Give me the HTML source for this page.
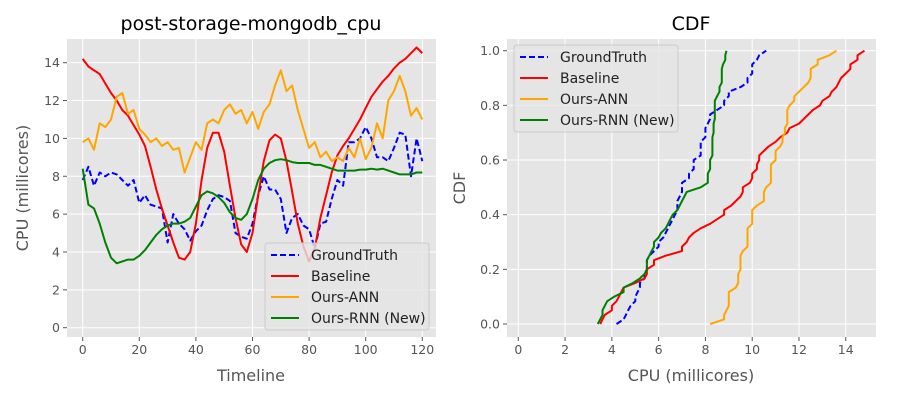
<!DOCTYPE html>
<html><head><meta charset="utf-8"><style>
body{margin:0;background:#fff;}
svg{display:block;font-family:"DejaVu Sans","Liberation Sans",sans-serif;}
</style></head><body>
<svg id="chart" width="900" height="400"></svg>
<script>
const timeStep = 2;
const groundTruth = [7.8,8.5,7.5,8.2,8.0,8.2,8.1,7.8,7.5,7.8,6.6,7.0,6.5,6.4,6.3,4.5,6.0,5.5,5.2,4.6,5.1,5.4,6.2,6.8,7.0,6.9,6.7,5.0,4.8,4.7,5.5,7.0,8.0,7.3,7.3,6.8,5.0,5.8,6.0,5.4,5.2,4.2,5.5,5.6,6.8,7.8,7.5,9.8,9.8,10.0,10.6,10.0,9.0,9.0,8.8,9.5,10.3,10.2,8.0,10.0,8.8];
const baseline = [14.2,13.8,13.6,13.4,12.9,12.4,12.0,11.5,11.2,10.7,10.2,9.6,8.5,7.3,6.3,5.4,4.5,3.7,3.6,4.0,5.5,7.8,9.5,10.3,10.3,9.3,7.5,5.8,4.4,4.0,5.0,7.0,8.8,9.9,10.2,10.0,8.8,7.2,5.5,4.3,3.5,4.2,5.8,7.0,8.2,9.1,9.6,10.0,10.5,11.0,11.6,12.2,12.6,13.0,13.3,13.7,14.0,14.2,14.5,14.8,14.5];
const oursANN = [9.8,10.0,9.4,10.8,10.6,11.0,12.2,12.4,11.3,11.5,10.5,10.2,9.8,10.0,9.6,9.8,9.4,9.5,8.2,9.0,9.8,9.4,10.8,11.0,10.8,11.5,11.8,11.3,11.5,10.8,11.4,10.5,11.4,11.8,12.8,13.6,12.5,12.8,11.5,10.5,9.5,9.8,9.0,9.3,8.8,9.0,8.8,9.5,9.0,10.0,8.9,9.5,10.8,10.0,12.0,12.5,13.3,12.5,11.2,11.6,11.0];
const oursRNN = [8.4,6.5,6.3,5.5,4.5,3.7,3.4,3.5,3.6,3.6,3.8,4.1,4.5,4.9,5.2,5.4,5.5,5.5,5.6,5.8,6.4,7.0,7.2,7.1,6.9,6.6,6.1,5.8,5.7,6.0,6.8,7.8,8.4,8.7,8.85,8.9,8.85,8.75,8.7,8.7,8.7,8.6,8.6,8.5,8.4,8.3,8.3,8.3,8.3,8.35,8.35,8.4,8.35,8.4,8.3,8.2,8.1,8.1,8.1,8.2,8.2];
const seriesNames = ["GroundTruth","Baseline","Ours-ANN","Ours-RNN (New)"];
const leftXTicks = [0,20,40,60,80,100,120];
const leftYTicks = [0,2,4,6,8,10,12,14];
const rightXTicks = [0,2,4,6,8,10,12,14];
const rightYTicks = [0,0.2,0.4,0.6,0.8,1.0];

const NS="http://www.w3.org/2000/svg";
const svg=document.getElementById('chart');
function mk(tag,attrs,parent,text){const e=document.createElementNS(NS,tag);for(const k in attrs)e.setAttribute(k,attrs[k]);if(text!==undefined)e.textContent=text;(parent||svg).appendChild(e);return e;}
const colors=["#0000ff","#ff0000","#ffa500","#008000"];
const allSeries=[groundTruth,baseline,oursANN,oursRNN];
const slugs=["groundtruth","baseline","ours-ann","ours-rnn"];

const L={x0:67,x1:436,y0:39,y1:337};
const lx=v=>82.7+v*2.83;
const ly=v=>327.7-v*18.93;
const R={x0:507,x1:876,y0:39,y1:337};
const rx=v=>518.3+v*23.39;
const ry=v=>324-v*273.3;

function axes(A,xt,yt,sx,sy,fmtY,name){
  const g=mk('g',{});
  
  
  mk('rect',{x:A.x0,y:A.y0,width:A.x1-A.x0,height:A.y1-A.y0,fill:'#e5e5e5'},g);
  xt.forEach(t=>{mk('line',{x1:sx(t),x2:sx(t),y1:A.y0,y2:A.y1,stroke:'#fff','stroke-width':1},g);
    mk('line',{x1:sx(t),x2:sx(t),y1:A.y1,y2:A.y1+4,stroke:'#555'},g);
    const tx=mk('text',{x:sx(t),y:A.y1+17,'text-anchor':'middle','font-size':12.5,fill:'#555'},g,String(t));
    });
  yt.forEach(t=>{mk('line',{y1:sy(t),y2:sy(t),x1:A.x0,x2:A.x1,stroke:'#fff','stroke-width':1},g);
    mk('line',{y1:sy(t),y2:sy(t),x1:A.x0-4,x2:A.x0,stroke:'#555'},g);
    const tx=mk('text',{x:A.x0-7,y:sy(t)+4.5,'text-anchor':'end','font-size':12.5,fill:'#555'},g,fmtY(t));
    });
}
axes(L,leftXTicks,leftYTicks,lx,ly,t=>String(t),'left');
axes(R,rightXTicks,rightYTicks,rx,ry,t=>t.toFixed(1),'right');

function line(pts,i,name){
  const d=pts.map((p,k)=>(k?'L':'M')+p[0].toFixed(1)+' '+p[1].toFixed(1)).join(' ');
  const p=mk('path',{d:d,fill:'none',stroke:colors[i],'stroke-width':2,'stroke-dasharray':i===0?'6,3':'none','stroke-linejoin':'round'});
  
  
}
allSeries.forEach((s,i)=>{
  line(s.map((v,k)=>[lx(k*timeStep),ly(v)]),i,'timeline-'+slugs[i]);
});
allSeries.forEach((s,i)=>{
  const sorted=s.slice().sort((a,b)=>a-b);const n=sorted.length;
  line(sorted.map((v,k)=>[rx(v),ry(k/(n-1))]),i,'cdf-'+slugs[i]);
});

function legend(x,y,name){
  const g=mk('g',{});
  
  
  mk('rect',{x:x,y:y,width:164,height:87,rx:3,fill:'#e5e5e5',stroke:'#ccc','fill-opacity':0.8},g);
  seriesNames.forEach((s,i)=>{
    const yy=y+12+i*21;
    mk('line',{x1:x+6,x2:x+34,y1:yy,y2:yy,stroke:colors[i],'stroke-width':2,'stroke-dasharray':i===0?'6,3':'none'},g);
    const t=mk('text',{x:x+46,y:yy+5,'font-size':14,fill:'#222'},g,s);
    
    
  });
}
legend(265,243,'left-legend');
legend(514,45,'right-legend');

function label(x,y,txt,size,name,rot,fill){
  const t=mk('text',{x:x,y:y,'text-anchor':'middle','font-size':size,fill:fill||'#555',transform:rot?`rotate(-90 ${x} ${y})`:''},svg,txt);
  
  
}
label(251,30,'post-storage-mongodb_cpu',19,'left-title',false,'#000');
label(691,30,'CDF',19,'right-title',false,'#000');
label(251,381,'Timeline',16,'left-x-axis-title');
label(691,381,'CPU (millicores)',16,'right-x-axis-title');
label(28,188,'CPU (millicores)',16,'left-y-axis-title',true);
label(465,188,'CDF',16,'right-y-axis-title',true);
</script>
</body></html>
